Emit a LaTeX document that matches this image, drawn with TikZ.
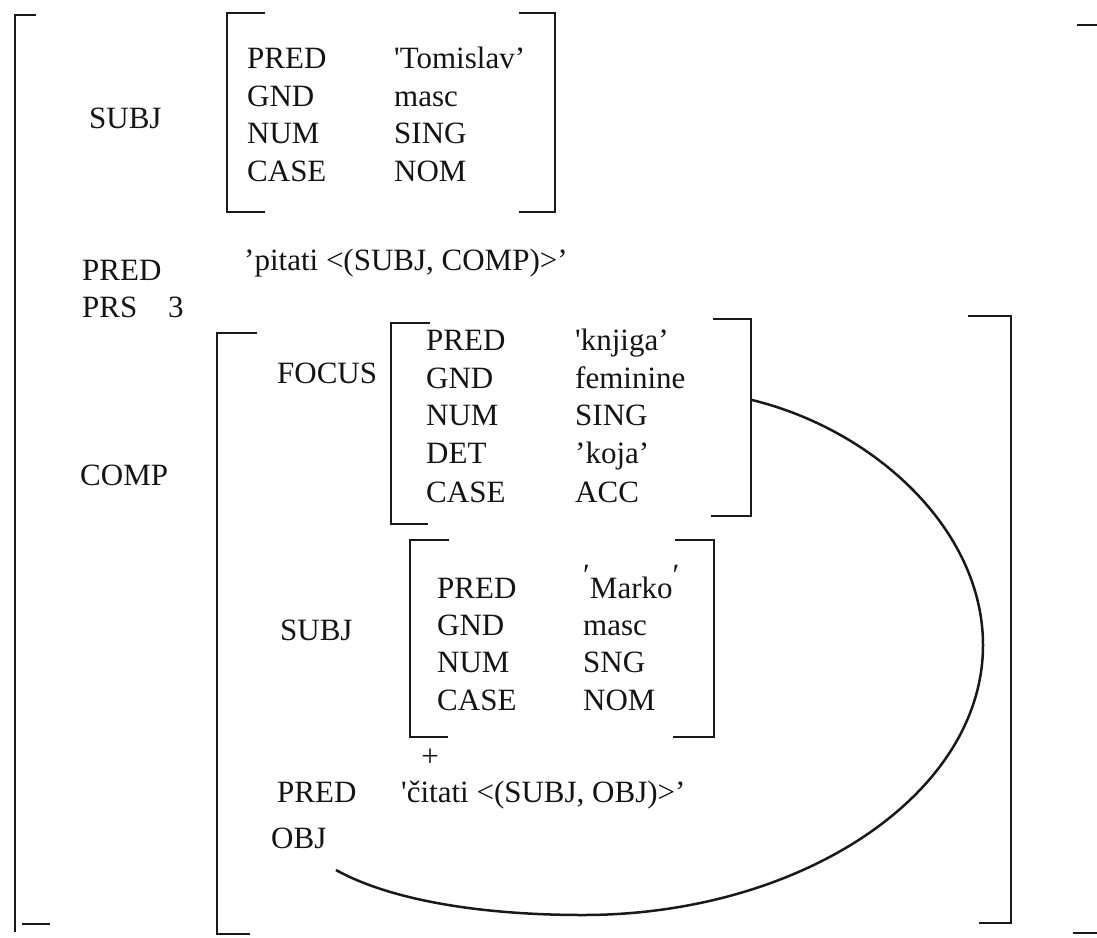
\documentclass[tikz,border=0pt]{standalone}
\usepackage{fontspec}
\setmainfont{Liberation Serif}
\newcommand\avmfont{\fontsize{31}{37}\selectfont}
\tikzset{
  lbl/.style={anchor=base west, inner sep=0pt, font=\avmfont, text=black!92},
  brk/.style={line width=2.8pt, line cap=butt, line join=miter, draw=black!90},
  link/.style={line width=2.5pt, draw=black!90}
}
\begin{document}
\begin{tikzpicture}[x=1pt,y=-1pt]
\useasboundingbox (0,0) rectangle (1097,937);
% outer brackets
\draw[brk] (36,15) -- (15,15) -- (15,932);
\draw[brk] (22,924) -- (50,924);
\draw[brk] (1077,25) -- (1097,25);
\draw[brk] (1073,933) -- (1097,933);
% top SUBJ
\node[lbl] (subj) at (89,128) {SUBJ};
\draw[brk] (265,13) -- (227,13) -- (227,212) -- (265,212);
\draw[brk] (519,13) -- (555,13) -- (555,212) -- (519,212);
\node[lbl] (tk1) at (247,68) {PRED};
\node[lbl] (tk2) at (247,106) {GND};
\node[lbl] (tk3) at (247,143) {NUM};
\node[lbl] (tk4) at (247,181) {CASE};
\node[lbl] (tv1) at (394,68) {\textquotesingle Tomislav'};
\node[lbl] (tv2) at (394,106) {masc};
\node[lbl] (tv3) at (394,143) {SING};
\node[lbl] (tv4) at (394,181) {NOM};
% PRED / PRS
\node[lbl] (pitati) at (244,270) {'pitati <(SUBJ, COMP)>'};
\node[lbl] (pred) at (82,280) {PRED};
\node[lbl] (prs) at (82,317) {PRS};
\node[lbl] (prs3) at (168,317) {3};
\node[lbl] (comp) at (80,485) {COMP};
% COMP bracket
\draw[brk] (257,333) -- (217,333) -- (217,934) -- (250,934);
\draw[brk] (968,316) -- (1011,316) -- (1011,923) -- (979,923);
% FOCUS
\node[lbl] (focus) at (277,383) {FOCUS};
\draw[brk] (430,323) -- (391,323) -- (391,524) -- (428,524);
\draw[brk] (713,319) -- (751,319) -- (751,516) -- (711,516);
\node[lbl] (fk1) at (426,350) {PRED};
\node[lbl] (fk2) at (426,388) {GND};
\node[lbl] (fk3) at (426,425) {NUM};
\node[lbl] (fk4) at (426,463) {DET};
\node[lbl] (fk5) at (426,502) {CASE};
\node[lbl] (fv1) at (575,350) {\textquotesingle knjiga'};
\node[lbl] (fv2) at (575,388) {feminine};
\node[lbl] (fv3) at (575,425) {SING};
\node[lbl] (fv4) at (575,463) {'koja'};
\node[lbl] (fv5) at (575,502) {ACC};
% inner SUBJ
\node[lbl] (subj2) at (280,640) {SUBJ};
\draw[brk] (449,540) -- (410,540) -- (410,737) -- (448,737);
\draw[brk] (675,540) -- (714,540) -- (714,737) -- (673,737);
\node[lbl] (sk1) at (437,598) {PRED};
\node[lbl] (sk2) at (437,635) {GND};
\node[lbl] (sk3) at (437,672) {NUM};
\node[lbl] (sk4) at (437,710) {CASE};
\node[lbl] (sv1) at (583,598) {\raisebox{0.4em}{\char"2032}Marko\raisebox{0.4em}{\char"2032}};
\node[lbl] (sv2) at (583,635) {masc};
\node[lbl] (sv3) at (583,672) {SNG};
\node[lbl] (sv4) at (583,710) {NOM};
\node[anchor=center, inner sep=0pt, font=\avmfont, text=black!92] (plus) at (430,758) {+};
\node[lbl] (pred2) at (277,802) {PRED};
\node[lbl] (citati) at (401,802) {\textquotesingle čitati <(SUBJ, OBJ)>'};
\node[lbl] (obj) at (271,848) {OBJ};
% link curve
\coordinate (cS) at (752,400);
\coordinate (cE) at (336,870);
\draw[link] (cS) .. controls (875,430) and (983,530) .. (983,645)
  .. controls (983,795) and (800,915) .. (583,915)
  .. controls (480,915) and (390,900) .. (cE);
\end{tikzpicture}
\end{document}
